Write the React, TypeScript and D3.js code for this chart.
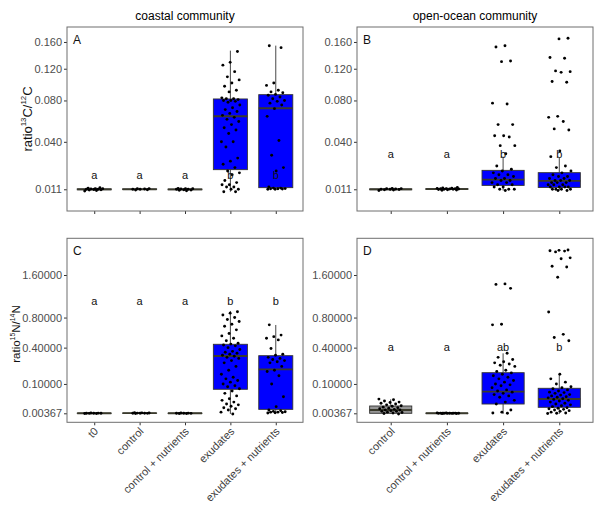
import { useEffect, useRef } from 'react';
import * as d3 from 'd3';

// treatments per community
const coastalGroups = ['t0', 'control', 'control + nutrients', 'exudates', 'exudates + nutrients'];
const oceanGroups = ['control', 'control + nutrients', 'exudates', 'exudates + nutrients'];

// 13C/12C, coastal
const cCoastT0 = [0.0103, 0.0105, 0.0107, 0.0108, 0.0109, 0.011, 0.011, 0.0111, 0.0112, 0.0113, 0.0115, 0.0117];
const cCoastControl = [0.0107, 0.0108, 0.011, 0.011, 0.0111, 0.0112, 0.0113];
const cCoastCtrlNut = [0.0104, 0.0106, 0.0107, 0.0108, 0.011, 0.011, 0.0111, 0.0112, 0.0113, 0.0114];
const cCoastExu = [0.145, 0.129, 0.125, 0.116, 0.109, 0.105, 0.101, 0.097, 0.092, 0.09, 0.083, 0.082, 0.082, 0.081, 0.08, 0.08, 0.079, 0.078, 0.075, 0.072, 0.07, 0.068, 0.066, 0.064, 0.062, 0.06, 0.058, 0.055, 0.052, 0.05, 0.047, 0.04, 0.04, 0.036, 0.028, 0.026, 0.024, 0.022, 0.02, 0.019, 0.018, 0.015, 0.014, 0.013, 0.013, 0.012, 0.012, 0.011, 0.011, 0.01, 0.01];
const cCoastExuNut = [0.154, 0.151, 0.101, 0.098, 0.092, 0.09, 0.089, 0.087, 0.086, 0.084, 0.082, 0.08, 0.079, 0.077, 0.075, 0.071, 0.063, 0.041, 0.03, 0.022, 0.02, 0.012, 0.0115, 0.0115, 0.0113, 0.0112, 0.0112, 0.0111, 0.011, 0.011];

// 13C/12C, open ocean
const cOceanControl = [0.0105, 0.0107, 0.0108, 0.0109, 0.011, 0.011, 0.0111, 0.0112, 0.0113, 0.0114];
const cOceanCtrlNut = [0.0106, 0.0107, 0.0108, 0.0109, 0.011, 0.011, 0.0111, 0.0111, 0.0112, 0.0112, 0.0113, 0.0114, 0.0115, 0.0116, 0.0118];
const cOceanExu = [0.154, 0.152, 0.131, 0.13, 0.077, 0.076, 0.055, 0.055, 0.045, 0.045, 0.044, 0.037, 0.037, 0.031, 0.023, 0.021, 0.02, 0.019, 0.018, 0.018, 0.017, 0.016, 0.016, 0.015, 0.015, 0.014, 0.014, 0.013, 0.013, 0.012, 0.012, 0.011, 0.011, 0.011, 0.0105];
const cOceanExuNut = [0.166, 0.165, 0.136, 0.135, 0.117, 0.116, 0.115, 0.103, 0.102, 0.063, 0.062, 0.058, 0.051, 0.05, 0.033, 0.029, 0.023, 0.022, 0.02, 0.019, 0.018, 0.017, 0.017, 0.016, 0.016, 0.015, 0.015, 0.015, 0.014, 0.014, 0.014, 0.013, 0.013, 0.013, 0.012, 0.012, 0.012, 0.012, 0.011, 0.011, 0.011, 0.011, 0.0105, 0.0105];

// 15N/14N, coastal
const nCoastT0 = [0.0034, 0.0035, 0.0036, 0.0037, 0.0037, 0.0038, 0.0039, 0.004];
const nCoastControl = [0.0035, 0.0036, 0.0037, 0.0038, 0.0038, 0.0039, 0.004, 0.0041, 0.0042];
const nCoastCtrlNut = [0.0034, 0.0035, 0.0036, 0.0037, 0.0038, 0.0039, 0.004];
const nCoastExu = [0.894, 0.87, 0.84, 0.8, 0.77, 0.74, 0.7, 0.67, 0.62, 0.57, 0.54, 0.51, 0.48, 0.45, 0.44, 0.43, 0.42, 0.4, 0.38, 0.36, 0.35, 0.34, 0.33, 0.32, 0.31, 0.3, 0.29, 0.27, 0.25, 0.22, 0.19, 0.16, 0.14, 0.13, 0.12, 0.11, 0.1, 0.09, 0.085, 0.075, 0.065, 0.055, 0.045, 0.035, 0.03, 0.025, 0.02, 0.018, 0.015, 0.012, 0.01, 0.008, 0.005, 0.003];
const nCoastExuNut = [0.69, 0.55, 0.53, 0.51, 0.49, 0.39, 0.33, 0.32, 0.3, 0.29, 0.28, 0.27, 0.26, 0.25, 0.22, 0.19, 0.18, 0.15, 0.1, 0.042, 0.014, 0.008, 0.007, 0.006, 0.0055, 0.005, 0.005, 0.0045, 0.0043, 0.004];

// 15N/14N, open ocean
const nOceanControl = [0.034, 0.032, 0.028, 0.025, 0.024, 0.022, 0.02, 0.018, 0.016, 0.015, 0.013, 0.012, 0.011, 0.01, 0.009, 0.008, 0.008, 0.007, 0.006, 0.006, 0.005, 0.0045, 0.004, 0.0035, 0.003];
const nOceanCtrlNut = [0.0034, 0.0035, 0.0036, 0.0036, 0.0037, 0.0037, 0.0038, 0.0038, 0.0039, 0.0039, 0.004, 0.0041, 0.0036, 0.0037];
const nOceanExu = [1.41, 1.4, 1.32, 0.7, 0.69, 0.34, 0.3, 0.28, 0.26, 0.25, 0.24, 0.23, 0.22, 0.19, 0.18, 0.17, 0.16, 0.15, 0.14, 0.13, 0.12, 0.11, 0.1, 0.095, 0.09, 0.08, 0.07, 0.065, 0.06, 0.055, 0.05, 0.045, 0.04, 0.03, 0.025, 0.02, 0.008, 0.005, 0.004, 0.0037];
const nOceanExuNut = [2.2, 2.19, 2.18, 2.17, 2.15, 2.0, 1.98, 1.8, 1.78, 1.55, 0.89, 0.56, 0.52, 0.48, 0.16, 0.13, 0.11, 0.1, 0.085, 0.08, 0.075, 0.07, 0.065, 0.06, 0.058, 0.055, 0.05, 0.048, 0.045, 0.042, 0.04, 0.038, 0.035, 0.033, 0.03, 0.028, 0.025, 0.022, 0.02, 0.018, 0.016, 0.014, 0.012, 0.011, 0.01, 0.009, 0.008, 0.007, 0.006, 0.005, 0.004, 0.0037, 0.0035];

// box summaries: [lower whisker, q1, median, q3, upper whisker]
const boxesA = [
  [0.0103, 0.0108, 0.011, 0.0112, 0.0117],
  [0.0107, 0.0109, 0.011, 0.0112, 0.0113],
  [0.0104, 0.0108, 0.011, 0.0111, 0.0114],
  [0.01, 0.0208, 0.0631, 0.0817, 0.1464],
  [0.011, 0.0117, 0.0714, 0.0867, 0.1542],
];
const boxesB = [
  [0.0105, 0.0108, 0.011, 0.0112, 0.0114],
  [0.0106, 0.0109, 0.0111, 0.0113, 0.0118],
  [0.0105, 0.0127, 0.0154, 0.0204, 0.029],
  [0.0105, 0.0118, 0.0148, 0.0191, 0.0283],
];
const boxesC = [
  [0.0034, 0.0036, 0.0037, 0.0038, 0.004],
  [0.0035, 0.0037, 0.0038, 0.0039, 0.0042],
  [0.0034, 0.0036, 0.0037, 0.0038, 0.004],
  [0.003, 0.0727, 0.3133, 0.4377, 0.9057],
  [0.004, 0.009, 0.197, 0.3162, 0.6886],
];
const boxesD = [
  [0.003, 0.00367, 0.008, 0.0154, 0.0333],
  [0.0034, 0.0036, 0.0037, 0.0038, 0.0041],
  [0.003, 0.02, 0.0619, 0.1716, 0.34],
  [0.003, 0.0127, 0.0343, 0.0775, 0.1623],
];

// compact letter display
const lettersA = ['a', 'a', 'a', 'b', 'b'];
const lettersB = ['a', 'a', 'b', 'b'];
const lettersC = ['a', 'a', 'a', 'b', 'b'];
const lettersD = ['a', 'a', 'ab', 'b'];

const carbonTicks = [0.011, 0.04, 0.08, 0.12, 0.16];
const nitrogenTicks = [0.00367, 0.1, 0.4, 0.8, 1.6];

const W = 604;
const H = 509;
const PW = 236;
const PH = 184;
const FONT = '"Liberation Sans", Arial, Helvetica, sans-serif';
const BLUE = '#0000ff';
const GREY = '#969696';

const App = () => {
  const svgRef = useRef(null);

  useEffect(() => {
    const svg = d3.select(svgRef.current);
    svg.selectAll('*').remove();

    const yCarbon = d3.scaleSqrt().domain([0.00377, 0.1849]).range([PH, 0]);
    const yNitrogen = d3.scaleSqrt().domain([-0.000317, 2.511]).range([PH, 0]);

    const panels = [
      { tag: 'A', x0: 67, y0: 27, groups: coastalGroups, samples: [cCoastT0, cCoastControl, cCoastCtrlNut, cCoastExu, cCoastExuNut], boxes: boxesA, letters: lettersA, letterAt: 0.0178, y: yCarbon, ticks: carbonTicks, fmt: d3.format('.3f'), bottom: false },
      { tag: 'B', x0: 357, y0: 27, groups: oceanGroups, samples: [cOceanControl, cOceanCtrlNut, cOceanExu, cOceanExuNut], boxes: boxesB, letters: lettersB, letterAt: 0.0308, y: yCarbon, ticks: carbonTicks, fmt: d3.format('.3f'), bottom: false },
      { tag: 'C', x0: 67, y0: 238.3, groups: coastalGroups, samples: [nCoastT0, nCoastControl, nCoastCtrlNut, nCoastExu, nCoastExuNut], boxes: boxesC, letters: lettersC, letterAt: 1.07, y: yNitrogen, ticks: nitrogenTicks, fmt: d3.format('.5f'), bottom: true },
      { tag: 'D', x0: 357, y0: 238.3, groups: oceanGroups, samples: [nOceanControl, nOceanCtrlNut, nOceanExu, nOceanExuNut], boxes: boxesD, letters: lettersD, letterAt: 0.4, y: yNitrogen, ticks: nitrogenTicks, fmt: d3.format('.5f'), bottom: true },
    ];

    svg.append('rect').attr('width', W).attr('height', H).attr('fill', '#fff');

    panels.forEach((p) => {
      const g = svg.append('g').attr('transform', `translate(${p.x0},${p.y0})`);
      const x = d3.scalePoint().domain(p.groups).range([0, PW]).padding(0.6);
      const step = x.step();
      const bw = step * 0.75;
      const y = p.y;

      // y axis
      const ya = g.append('g')
        .call(d3.axisLeft(y).tickValues(p.ticks).tickFormat(p.fmt).tickSize(3).tickPadding(2));
      ya.select('.domain').remove();
      ya.selectAll('line').attr('stroke', '#333');
      ya.selectAll('text').attr('fill', '#4d4d4d').attr('font-size', 11).attr('font-family', FONT);

      // x axis
      const xa = g.append('g')
        .attr('transform', `translate(0,${PH})`)
        .call(d3.axisBottom(x).tickSize(3).tickFormat(() => ''));
      xa.select('.domain').remove();
      xa.selectAll('line').attr('stroke', '#333');

      if (p.bottom) {
        g.append('g').selectAll('text')
          .data(p.groups)
          .join('text')
          .attr('transform', d => `translate(${x(d) + 2},${PH + 7}) rotate(-45)`)
          .attr('text-anchor', 'end')
          .attr('dy', '0.35em')
          .attr('fill', '#404040')
          .attr('font-size', 11)
          .attr('font-family', FONT)
          .text(d => d);
      }

      // boxes
      const boxG = g.append('g');
      p.groups.forEach((grp, i) => {
        const [lo, q1, med, q3, hi] = p.boxes[i];
        const cx = x(grp);
        const fill = grp.startsWith('exudates') ? BLUE : GREY;
        boxG.append('line')
          .attr('x1', cx).attr('x2', cx).attr('y1', y(q3)).attr('y2', y(hi))
          .attr('stroke', '#333').attr('stroke-width', 0.9);
        boxG.append('line')
          .attr('x1', cx).attr('x2', cx).attr('y1', y(q1)).attr('y2', y(lo))
          .attr('stroke', '#333').attr('stroke-width', 0.9);
        boxG.append('rect')
          .attr('x', cx - bw / 2).attr('width', bw)
          .attr('y', y(q3)).attr('height', Math.max(0, y(q1) - y(q3)))
          .attr('fill', fill).attr('stroke', '#333').attr('stroke-width', 0.9);
        boxG.append('line')
          .attr('x1', cx - bw / 2).attr('x2', cx + bw / 2).attr('y1', y(med)).attr('y2', y(med))
          .attr('stroke', '#3a3a2c').attr('stroke-width', 1.8);
      });

      // jittered samples
      const ptG = g.append('g');
      p.groups.forEach((grp, i) => {
        const cx = x(grp);
        ptG.selectAll(null)
          .data(p.samples[i])
          .join('circle')
          .attr('cx', (d, k) => cx + (((k * 0.618034 + i * 0.29) % 1) - 0.5) * 0.42 * step)
          .attr('cy', d => y(d))
          .attr('r', 1.45)
          .attr('fill', '#000');
      });

      // letters
      g.append('g').selectAll('text')
        .data(p.groups)
        .join('text')
        .attr('x', d => x(d))
        .attr('y', y(p.letterAt))
        .attr('dy', '0.35em')
        .attr('text-anchor', 'middle')
        .attr('font-size', 11)
        .attr('font-family', FONT)
        .attr('fill', '#111')
        .text((d, i) => p.letters[i]);

      // panel border and tag
      g.append('rect')
        .attr('width', PW).attr('height', PH)
        .attr('fill', 'none').attr('stroke', '#6e6e6e').attr('stroke-width', 1);
      g.append('text')
        .attr('x', 6).attr('y', 17)
        .attr('font-size', 12).attr('font-family', FONT)
        .attr('fill', '#111')
        .text(p.tag);
    });

    // community titles
    svg.append('text')
      .attr('x', 67 + PW / 2).attr('y', 20)
      .attr('text-anchor', 'middle').attr('font-size', 12).attr('font-family', FONT)
      .text('coastal community');
    svg.append('text')
      .attr('x', 357 + PW / 2).attr('y', 20)
      .attr('text-anchor', 'middle').attr('font-size', 12).attr('font-family', FONT)
      .text('open-ocean community');

    // y titles with isotope superscripts
    const yTitle = (tx, ty, size, a, b, el) => {
      const t = svg.append('text')
        .attr('transform', `translate(${tx},${ty}) rotate(-90)`)
        .attr('text-anchor', 'middle')
        .attr('font-size', size)
        .attr('font-family', FONT)
        .attr('fill', '#111');
      t.append('tspan').text('ratio');
      t.append('tspan').attr('font-size', size * 0.6).attr('dy', -size * 0.4).text(a);
      t.append('tspan').attr('dy', size * 0.4).text(`${el}/`);
      t.append('tspan').attr('font-size', size * 0.6).attr('dy', -size * 0.4).text(b);
      t.append('tspan').attr('dy', size * 0.4).text(el);
    };
    yTitle(31.5, 27 + PH / 2, 13, '13', '12', 'C');
    yTitle(20, 334, 11.5, '15', '14', 'N');
  }, []);

  return <svg ref={svgRef} width={W} height={H} style={{ position: 'absolute', left: 0, top: 0 }} />;
};

export default App;
